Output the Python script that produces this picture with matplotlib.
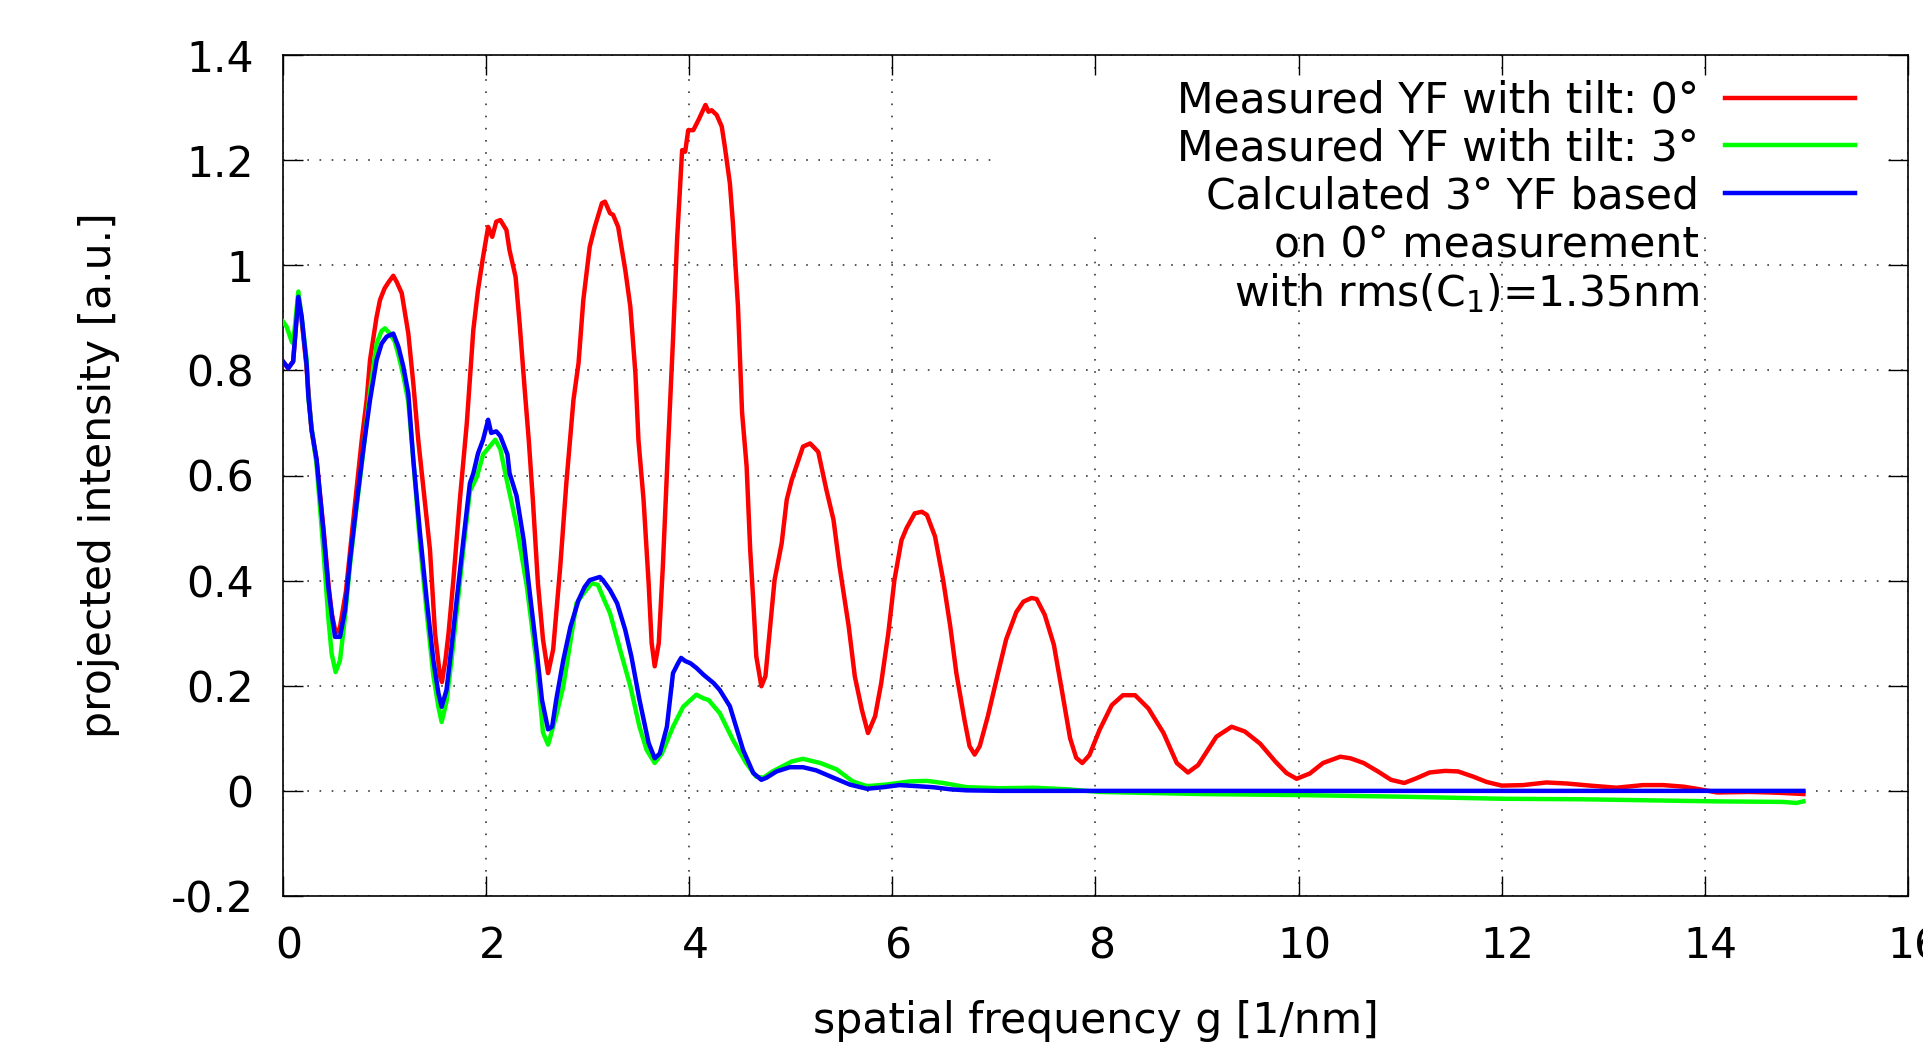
import matplotlib
matplotlib.use("Agg")
import matplotlib.pyplot as plt
from matplotlib.lines import Line2D
from matplotlib.patches import Rectangle
import matplotlib.transforms as mtrans

# ---------------- data ----------------
red_x = [0, 0.05, 0.10, 0.15, 0.18, 0.23, 0.28, 0.33, 0.40, 0.45, 0.48, 0.52, 0.56, 0.62, 0.70,
         0.775, 0.824, 0.857, 0.92, 0.955, 1.0, 1.04, 1.086, 1.12, 1.169, 1.234, 1.283, 1.332, 1.38,
         1.447, 1.497, 1.546, 1.565, 1.60, 1.63, 1.677, 1.743, 1.81, 1.874, 1.92, 1.97, 2.02, 2.06,
         2.10, 2.14, 2.20, 2.23, 2.29, 2.33, 2.38, 2.42, 2.46, 2.51, 2.56, 2.61, 2.66, 2.73, 2.79,
         2.86, 2.91, 2.957, 3.02, 3.07, 3.14, 3.17, 3.22, 3.25, 3.30, 3.37, 3.42, 3.47, 3.50, 3.55,
         3.60, 3.63, 3.66, 3.70, 3.74, 3.79, 3.84, 3.88, 3.93, 3.96, 3.99, 4.04, 4.09, 4.16, 4.19,
         4.22, 4.27, 4.32, 4.35, 4.40, 4.43, 4.48, 4.52, 4.565, 4.60, 4.63, 4.66, 4.71, 4.75, 4.79,
         4.84, 4.91, 4.96, 5.01, 5.12, 5.19, 5.27, 5.35, 5.42, 5.48, 5.57, 5.63, 5.70, 5.76, 5.83,
         5.89, 5.96, 6.02, 6.09, 6.14, 6.22, 6.29, 6.34, 6.42, 6.50, 6.57, 6.63, 6.71, 6.76, 6.81,
         6.86, 6.94, 7.04, 7.12, 7.22, 7.29, 7.37, 7.42, 7.50, 7.59, 7.67, 7.75, 7.81, 7.87, 7.94,
         8.04, 8.16, 8.27, 8.39, 8.52, 8.67, 8.80, 8.91, 9.01, 9.19, 9.34, 9.47, 9.62, 9.77, 9.88,
         9.98, 10.11, 10.24, 10.41, 10.51, 10.64, 10.78, 10.91, 11.04, 11.16, 11.29, 11.44, 11.57,
         11.72, 11.85, 12.00, 12.21, 12.44, 12.64, 12.87, 13.13, 13.39, 13.59, 13.79, 13.92, 14.12,
         14.44, 14.64, 14.77, 14.97]
red_y = [0.817, 0.804, 0.817, 0.94, 0.902, 0.81, 0.687, 0.630, 0.496, 0.388, 0.337, 0.300, 0.31, 0.38, 0.53,
         0.667, 0.744, 0.820, 0.90, 0.934, 0.956, 0.968, 0.980, 0.968, 0.947, 0.870, 0.775, 0.667, 0.58,
         0.459, 0.300, 0.218, 0.207, 0.25, 0.30, 0.40, 0.557, 0.70, 0.877, 0.953, 1.016, 1.073, 1.054,
         1.083, 1.086, 1.067, 1.029, 0.978, 0.889, 0.763, 0.667, 0.554, 0.395, 0.288, 0.224, 0.269, 0.427, 0.586,
         0.744, 0.814, 0.934, 1.035, 1.073, 1.118, 1.121, 1.099, 1.096, 1.073, 0.991, 0.921, 0.794, 0.667, 0.554,
         0.395, 0.281, 0.237, 0.281, 0.427, 0.649, 0.858, 1.048, 1.219, 1.216, 1.257, 1.257, 1.276, 1.305, 1.292,
         1.295, 1.286, 1.264, 1.226, 1.156, 1.080, 0.921, 0.72, 0.617, 0.459, 0.363, 0.256, 0.199, 0.218, 0.300,
         0.401, 0.471, 0.554, 0.592, 0.655, 0.661, 0.645, 0.573, 0.516, 0.427, 0.313, 0.218, 0.154, 0.110, 0.142,
         0.205, 0.300, 0.401, 0.477, 0.500, 0.528, 0.531, 0.525, 0.484, 0.401, 0.313, 0.224, 0.135, 0.085, 0.069,
         0.085, 0.142, 0.224, 0.288, 0.340, 0.360, 0.367, 0.365, 0.335, 0.278, 0.190, 0.100, 0.063, 0.053, 0.068,
         0.116, 0.163, 0.182, 0.182, 0.157, 0.110, 0.053, 0.035, 0.049, 0.103, 0.122, 0.113, 0.090, 0.056, 0.034,
         0.023, 0.033, 0.053, 0.065, 0.062, 0.053, 0.037, 0.021, 0.015, 0.024, 0.035, 0.038, 0.037,
         0.027, 0.017, 0.010, 0.011, 0.016, 0.014, 0.010, 0.006, 0.011, 0.011, 0.008, 0.004, -0.003,
         -0.002, -0.003, -0.004, -0.006]

green_x = [0, 0.036, 0.085, 0.10, 0.151, 0.184, 0.233, 0.249, 0.282, 0.331, 0.397, 0.446, 0.479, 0.518,
           0.561, 0.61, 0.66, 0.725, 0.79, 0.857, 0.922, 0.97, 1.004, 1.053, 1.10, 1.136, 1.185, 1.234,
           1.283, 1.349, 1.415, 1.48, 1.53, 1.562, 1.61, 1.66, 1.71, 1.776, 1.84, 1.91, 1.97, 2.09, 2.14,
           2.20, 2.30, 2.40, 2.50, 2.56, 2.61, 2.69, 2.76, 2.89, 2.96, 3.04, 3.10, 3.15, 3.22, 3.32, 3.42,
           3.51, 3.58, 3.66, 3.73, 3.84, 3.94, 4.07, 4.14, 4.19, 4.30, 4.43, 4.56, 4.66, 4.73, 4.82, 5.01,
           5.12, 5.29, 5.45, 5.61, 5.75, 5.94, 6.17, 6.34, 6.50, 6.73, 7.06, 7.39, 7.72, 8.04, 9.04, 10.0,
           11.0, 12.0, 12.8, 13.46, 14.12, 14.77, 14.9, 14.97]
green_y = [0.893, 0.883, 0.855, 0.851, 0.950, 0.90, 0.82, 0.75, 0.69, 0.62, 0.46, 0.33, 0.261, 0.226,
           0.248, 0.33, 0.43, 0.54, 0.645, 0.76, 0.851, 0.875, 0.880, 0.870, 0.855, 0.83, 0.79, 0.74,
           0.63, 0.47, 0.34, 0.22, 0.16, 0.131, 0.17, 0.25, 0.34, 0.46, 0.57, 0.598, 0.640, 0.668, 0.650,
           0.594, 0.505, 0.390, 0.238, 0.111, 0.088, 0.143, 0.199, 0.357, 0.376, 0.395, 0.392, 0.369, 0.338, 0.268, 0.199,
           0.122, 0.078, 0.053, 0.071, 0.122, 0.160, 0.183, 0.176, 0.173, 0.148, 0.097, 0.053, 0.027, 0.025, 0.037, 0.056,
           0.061, 0.053, 0.041, 0.018, 0.009, 0.012, 0.018, 0.019, 0.015, 0.007, 0.005, 0.006, 0.003, -0.002, -0.006, -0.008,
           -0.011, -0.015, -0.016, -0.018, -0.020, -0.021, -0.023, -0.020]

blue_x = [0, 0.052, 0.10, 0.151, 0.184, 0.233, 0.25, 0.282, 0.331, 0.397, 0.446, 0.479, 0.512, 0.561,
          0.61, 0.66, 0.725, 0.79, 0.857, 0.922, 0.971, 1.02, 1.086, 1.136, 1.185, 1.234, 1.283, 1.349,
          1.415, 1.48, 1.53, 1.562, 1.61, 1.66, 1.71, 1.776, 1.84, 1.874, 1.92, 1.97, 2.02, 2.05, 2.10,
          2.14, 2.21, 2.23, 2.30, 2.37, 2.43, 2.50, 2.55, 2.61, 2.65, 2.69, 2.76, 2.83, 2.91, 2.97, 3.02,
          3.12, 3.15, 3.22, 3.29, 3.37, 3.43, 3.51, 3.60, 3.66, 3.71, 3.78, 3.84, 3.89, 3.92, 3.96, 4.01,
          4.07, 4.14, 4.24, 4.30, 4.40, 4.53, 4.63, 4.71, 4.76, 4.86, 4.99, 5.12, 5.25, 5.42, 5.58, 5.75,
          5.91, 6.07, 6.24, 6.40, 6.57, 6.73, 7.06, 8.0, 10.0, 12.0, 14.97]
blue_y = [0.817, 0.804, 0.817, 0.94, 0.902, 0.81, 0.75, 0.687, 0.630, 0.496, 0.388, 0.337, 0.293, 0.293,
          0.343, 0.439, 0.547, 0.649, 0.744, 0.82, 0.851, 0.864, 0.870, 0.845, 0.807, 0.756, 0.630, 0.490,
          0.363, 0.249, 0.186, 0.160, 0.192, 0.275, 0.363, 0.477, 0.585, 0.604, 0.642, 0.668, 0.706, 0.681, 0.684,
          0.675, 0.640, 0.605, 0.561, 0.477, 0.376, 0.262, 0.173, 0.117, 0.122, 0.173, 0.249, 0.312, 0.363, 0.388, 0.401,
          0.407, 0.401, 0.382, 0.357, 0.306, 0.256, 0.173, 0.091, 0.062, 0.071, 0.122, 0.224, 0.243, 0.253, 0.247, 0.243,
          0.234, 0.221, 0.205, 0.192, 0.161, 0.078, 0.034, 0.021, 0.025, 0.037, 0.045, 0.045, 0.039, 0.025, 0.012, 0.004,
          0.007, 0.011, 0.009, 0.007, 0.003, 0.001, 0.000, 0.000, 0.000, 0.000, 0.000]

labels = ["Measured YF with tilt: 0°", "Measured YF with tilt: 3°", "Calculated 3° YF based",
          "on 0° measurement", "with rms(C$_1$)=1.35nm"]
x_ticks = [0, 2, 4, 6, 8, 10, 12, 14, 16]
x_ticklabels = ["0", "2", "4", "6", "8", "10", "12", "14", "16"]
y_ticks = [-0.2, 0, 0.2, 0.4, 0.6, 0.8, 1.0, 1.2, 1.4]
y_ticklabels = ["-0.2", "0", "0.2", "0.4", "0.6", "0.8", "1", "1.2", "1.4"]

# ---------------- figure ----------------
plt.rcParams['font.family'] = ['DejaVu Sans']
plt.rcParams['mathtext.fontset'] = 'dejavusans'
FS = 30.6

fig = plt.figure(figsize=(19.24, 10.49), dpi=100)
ax = fig.add_axes([283/1924, 1-896/1049, (1908-283)/1924, (896-55)/1049])

ax.set_xlim(0, 16)
ax.set_ylim(-0.2, 1.4)

ax.grid(True, color='#3a3a3a', linewidth=1.2, linestyle=(0, (1, 6.3)))
# gnuplot-style opaque area behind the key
ax.add_patch(Rectangle((7.02, 1.07), 15.8 - 7.02, 1.36 - 1.07, facecolor='white',
                       edgecolor='none', zorder=1.6))

LW = 3.2
l1, = ax.plot(red_x, red_y, color='#ff0000', lw=LW, zorder=2)
l2, = ax.plot(green_x, green_y, color='#00ff00', lw=LW, zorder=3)
l3, = ax.plot(blue_x, blue_y, color='#0000ff', lw=LW, zorder=4)

d1 = Line2D([], [], color='none')
d2 = Line2D([], [], color='none')
ax.legend(handles=[l1, l2, l3, d1, d2], labels=labels, loc='upper right',
          bbox_to_anchor=(0.9674, 0.971), markerfirst=False, frameon=False,
          handlelength=3.05, handletextpad=0.62, labelspacing=0.14, borderpad=0,
          borderaxespad=0, fontsize=FS)

ax.set_xticks(x_ticks)
ax.set_xticklabels(x_ticklabels)
ax.set_yticks(y_ticks)
ax.set_yticklabels(y_ticklabels)
ax.tick_params(direction='in', length=14.4, width=1.0, top=True, right=True,
               labelsize=FS, colors='black')
ax.tick_params(axis='x', pad=21.0)
ax.tick_params(axis='y', pad=21)
for sp in ax.spines.values():
    sp.set_linewidth(1.2)

offset = mtrans.ScaledTranslation(6/100, 0, fig.dpi_scale_trans)
for lab in ax.get_xticklabels():
    lab.set_transform(lab.get_transform() + offset)

ax.set_xlabel("spatial frequency g [1/nm]", fontsize=FS)
ax.set_ylabel("projected intensity [a.u.]", fontsize=FS)
ax.xaxis.set_label_coords(0.5, -0.1236)
ax.yaxis.set_label_coords(-0.100, 0.5)

fig.savefig("out.png", dpi=100)
